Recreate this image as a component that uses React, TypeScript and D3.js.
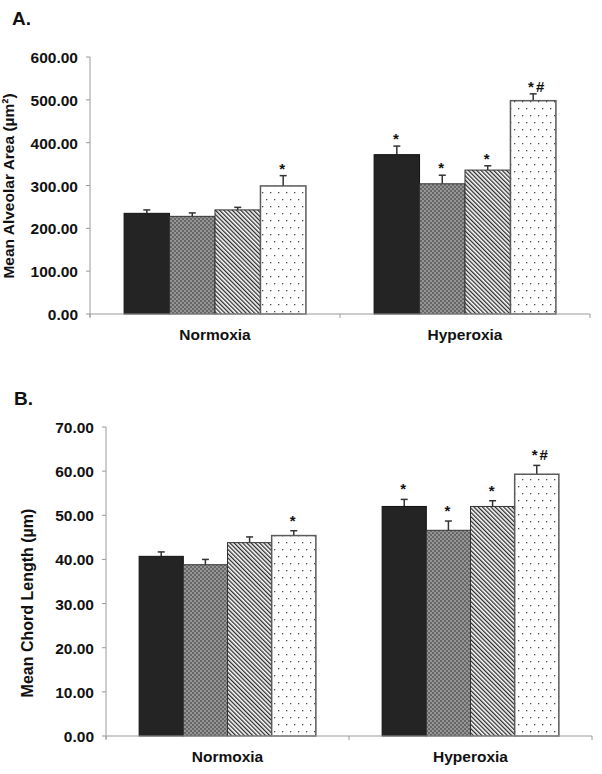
import React from "react";
import * as d3 from "d3";

const groups = ["Normoxia", "Hyperoxia"];
const series = ["s1", "s2", "s3", "s4"];

// Panel A: Mean Alveolar Area (µm²)
const areaNormoxia = [235, 228, 243, 299];
const areaNormoxiaErr = [8, 8, 6, 24];
const areaHyperoxia = [372, 304, 336, 498];
const areaHyperoxiaErr = [20, 20, 10, 16];
const areaMarks = [["", "", "", "*"], ["*", "*", "*", "*#"]];
const areaTicks = [0, 100, 200, 300, 400, 500, 600];

// Panel B: Mean Chord Length (µm)
const chordNormoxia = [40.7, 38.8, 43.8, 45.4];
const chordNormoxiaErr = [1.0, 1.2, 1.3, 1.1];
const chordHyperoxia = [52.0, 46.6, 52.0, 59.3];
const chordHyperoxiaErr = [1.6, 2.1, 1.3, 2.0];
const chordMarks = [["", "", "", "*"], ["*", "*", "*", "*#"]];
const chordTicks = [0, 10, 20, 30, 40, 50, 60, 70];

const FONT = "'Liberation Sans', Arial, Helvetica, sans-serif";
const fills = ["#242424", "url(#chk)", "url(#diag)", "url(#dots)"];
const strokes = ["#111", "#333", "#333", "#5a5a5a"];

type PanelProps = {
  title: string;
  titleY: number;
  titleX: number;
  ylabel: string;
  ylabelX: number;
  ylabelY: number;
  ylabelSize: number;
  x0: number;
  x1: number;
  yTop: number;
  yBottom: number;
  max: number;
  ticks: number[];
  values: number[][];
  errs: number[][];
  marks: string[][];
  markOffset: number;
  catY: number;
};

function Panel(p: PanelProps) {
  const xg = d3.scaleBand<string>().domain(groups).range([p.x0, p.x1]).padding(0);
  const xs = d3
    .scaleBand<string>()
    .domain(series)
    .range([0, xg.bandwidth()])
    .paddingInner(0)
    .paddingOuter(0.75);
  const y = d3.scaleLinear().domain([0, p.max]).range([p.yBottom, p.yTop]);
  const axisColor = "#9a9a9a";
  const boundaries = [p.x0, ...groups.map((g) => (xg(g) as number) + xg.bandwidth())];
  return (
    <g>
      <text x={p.titleX} y={p.titleY} fontFamily={FONT} fontWeight="bold" fontSize={19} fill="#111">
        {p.title}
      </text>
      <text
        transform={`translate(${p.ylabelX},${p.ylabelY}) rotate(-90)`}
        textAnchor="middle"
        fontFamily={FONT}
        fontWeight="bold"
        fontSize={p.ylabelSize}
        fill="#111"
      >
        {p.ylabel}
      </text>
      {/* y axis */}
      <line x1={p.x0} x2={p.x0} y1={p.yTop} y2={p.yBottom + 3} stroke={axisColor} strokeWidth={1} />
      {p.ticks.map((t) => (
        <g key={t}>
          <line x1={p.x0 - 4} x2={p.x0} y1={y(t)} y2={y(t)} stroke={axisColor} strokeWidth={1} />
          <text
            x={p.x0 - 12}
            y={y(t) + 6}
            textAnchor="end"
            fontFamily={FONT}
            fontWeight="bold"
            fontSize={15.5}
            fill="#111"
          >
            {t.toFixed(2)}
          </text>
        </g>
      ))}
      {/* bars */}
      {groups.map((g, gi) =>
        series.map((s, si) => {
          const v = p.values[gi][si];
          const e = p.errs[gi][si];
          const bx = (xg(g) as number) + (xs(s) as number);
          const bw = xs.bandwidth();
          const cx = bx + bw / 2;
          const top = y(v + e);
          return (
            <g key={g + s}>
              <line x1={cx} x2={cx} y1={y(v)} y2={top} stroke="#333" strokeWidth={1.5} />
              <line x1={cx - 3.5} x2={cx + 3.5} y1={top} y2={top} stroke="#333" strokeWidth={1.5} />
              <rect
                x={bx}
                y={y(v)}
                width={bw}
                height={p.yBottom - y(v)}
                fill={fills[si]}
                stroke={strokes[si]}
                strokeWidth={si === 3 ? 1.5 : 1}
              />
              {p.marks[gi][si] && (
                <text
                  x={cx + (p.marks[gi][si].length > 1 ? 4 : 0)}
                  y={top - p.markOffset + 9}
                  textAnchor="middle"
                  fontFamily={FONT}
                  fontWeight="bold"
                  fontSize={15}
                  letterSpacing={2}
                  fill="#111"
                >
                  {p.marks[gi][si]}
                </text>
              )}
            </g>
          );
        })
      )}
      {/* x axis */}
      <line x1={p.x0} x2={p.x1} y1={p.yBottom} y2={p.yBottom} stroke={axisColor} strokeWidth={1} />
      {boundaries.map((b, i) => (
        <line key={i} x1={b} x2={b} y1={p.yBottom} y2={p.yBottom + 4} stroke={axisColor} strokeWidth={1} />
      ))}
      {groups.map((g) => (
        <text
          key={g}
          x={(xg(g) as number) + xg.bandwidth() / 2}
          y={p.catY}
          textAnchor="middle"
          fontFamily={FONT}
          fontWeight="bold"
          fontSize={15.5}
          fill="#111"
        >
          {g}
        </text>
      ))}
    </g>
  );
}

export default function App() {
  return (
    <svg
      width={602}
      height={774}
      viewBox="0 0 602 774"
      style={{ position: "absolute", left: 0, top: 0, background: "#fff" }}
    >
      <defs>
        <pattern id="chk" width={4} height={4} patternUnits="userSpaceOnUse">
          <rect width={4} height={4} fill="#959595" />
          <rect x={0} y={0} width={2} height={2} fill="#676767" />
          <rect x={2} y={2} width={2} height={2} fill="#676767" />
        </pattern>
        <pattern
          id="diag"
          width={3}
          height={3}
          patternUnits="userSpaceOnUse"
          patternTransform="rotate(-45)"
        >
          <rect width={3} height={3} fill="#fff" />
          <rect x={0} y={0} width={1.3} height={3} fill="#2a2a2a" />
        </pattern>
        <pattern id="dots" width={8} height={14} patternUnits="userSpaceOnUse">
          <rect width={8} height={14} fill="#fff" />
          <rect x={2} y={3} width={1.3} height={1.3} fill="#4a4a4a" />
          <rect x={6} y={10} width={1.3} height={1.3} fill="#4a4a4a" />
        </pattern>
      </defs>
      <rect width={602} height={774} fill="#fff" />
      <Panel
        title="A."
        titleX={12}
        titleY={25}
        ylabel="Mean Alveolar Area (µm²)"
        ylabelX={14}
        ylabelY={186}
        ylabelSize={15.5}
        x0={90}
        x1={590}
        yTop={57}
        yBottom={314}
        max={600}
        ticks={areaTicks}
        values={[areaNormoxia, areaHyperoxia]}
        errs={[areaNormoxiaErr, areaHyperoxiaErr]}
        marks={areaMarks}
        markOffset={11}
        catY={340}
      />
      <Panel
        title="B."
        titleX={14}
        titleY={405}
        ylabel="Mean Chord Length (µm)"
        ylabelX={33}
        ylabelY={603}
        ylabelSize={16}
        x0={106}
        x1={592}
        yTop={427}
        yBottom={736}
        max={70}
        ticks={chordTicks}
        values={[chordNormoxia, chordHyperoxia]}
        errs={[chordNormoxiaErr, chordHyperoxiaErr]}
        marks={chordMarks}
        markOffset={14}
        catY={762}
      />
    </svg>
  );
}
